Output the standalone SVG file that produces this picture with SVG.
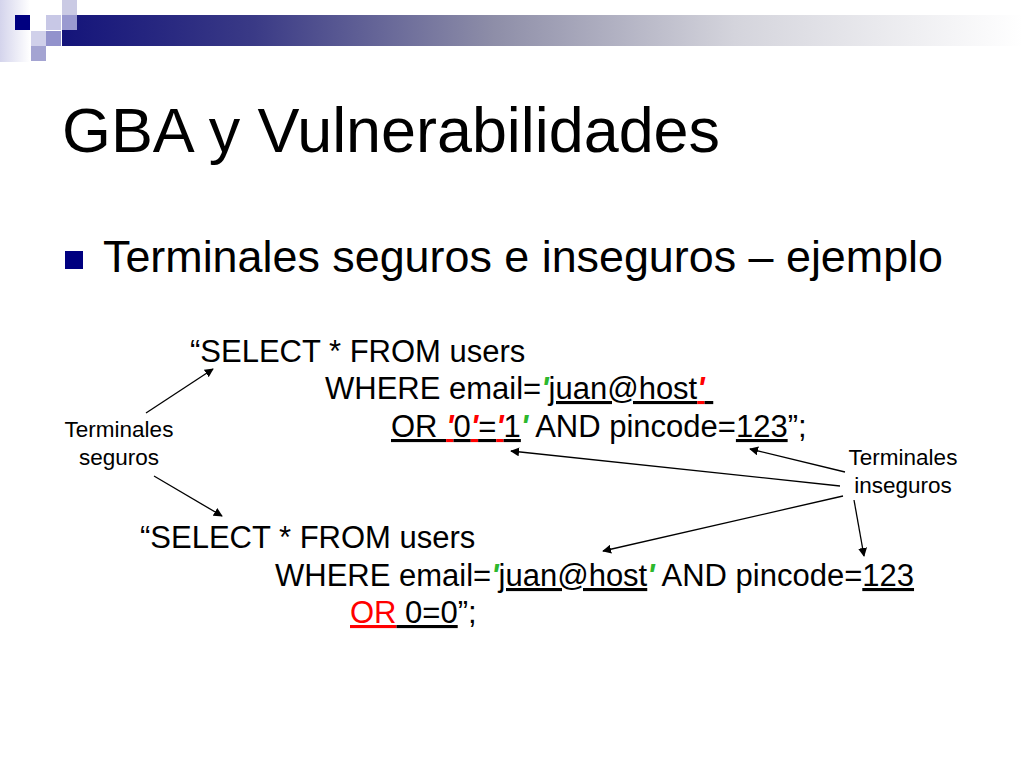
<svg xmlns="http://www.w3.org/2000/svg" width="1023" height="767" viewBox="0 0 1023 767">
<style>
text{font-family:"Liberation Sans",Arial,sans-serif;fill:#000;white-space:pre}
.sql{font-size:31px}
.lbl{font-size:22.5px;text-anchor:middle}
.u{text-decoration:underline}
.g{fill:#2db82d;font-weight:bold;font-style:italic}
.r{fill:#ff0000}
.rq{fill:#ff0000;font-weight:bold;font-style:italic}
.conn line{stroke:#000;stroke-width:1.3;marker-end:url(#ah)}
</style>
<defs>
<linearGradient id="bar" x1="0" y1="0" x2="1" y2="0">
<stop offset="0" stop-color="#14147a"/>
<stop offset="0.2" stop-color="#3a3a86"/>
<stop offset="0.45" stop-color="#8e8ea8"/>
<stop offset="0.7" stop-color="#d4d4dc"/>
<stop offset="1" stop-color="#ffffff"/>
</linearGradient>
<linearGradient id="side" x1="0" y1="0" x2="1" y2="0">
<stop offset="0" stop-color="#d4d4ec"/>
<stop offset="1" stop-color="#ffffff"/>
</linearGradient>
<marker id="ah" viewBox="0 0 10 10" refX="9" refY="5" markerWidth="9" markerHeight="9" markerUnits="userSpaceOnUse" orient="auto">
<path d="M0,0 L10,5 L0,10 z" fill="#000"/>
</marker>
</defs>
<rect width="1023" height="767" fill="#fff"/>
<g id="header">
<rect x="0" y="0" width="30" height="62" fill="url(#side)"/>
<rect x="62" y="15" width="961" height="31" fill="url(#bar)"/>
<rect x="15" y="15" width="15" height="15" fill="#000080"/>
<rect x="46" y="15" width="15" height="15" fill="#c8c8e6"/>
<rect x="62" y="15" width="15" height="15" fill="#9a9ad0"/>
<rect x="62" y="0" width="15" height="15" fill="#cacae4"/>
<rect x="31" y="31" width="15" height="15" fill="#d0d0ea"/>
<rect x="46" y="31" width="15" height="15" fill="#9292cc"/>
<rect x="31" y="46" width="15" height="15" fill="#a4a4d2"/>
</g>
<g id="title">
<text x="62" y="152" font-size="63" textLength="658" lengthAdjust="spacingAndGlyphs">GBA y Vulnerabilidades</text>
</g>
<g id="bullet">
<rect x="65" y="251" width="18" height="18" fill="#000080"/>
<text x="103" y="272" font-size="44.5" textLength="840" lengthAdjust="spacingAndGlyphs">Terminales seguros e inseguros – ejemplo</text>
</g>
<g id="query1">
<text class="sql" x="190" y="362">“SELECT * FROM users</text>
<text class="sql" x="325" y="399">WHERE email=<tspan class="g">'</tspan><tspan class="u">juan@host</tspan><tspan class="rq u">'</tspan><tspan class="u"> </tspan></text>
<text class="sql" x="391" y="437"><tspan class="u">OR </tspan><tspan class="rq u">'</tspan><tspan class="u">0</tspan><tspan class="rq u">'</tspan><tspan class="u">=</tspan><tspan class="rq u">'</tspan><tspan class="u">1</tspan><tspan class="g">'</tspan> AND pincode=<tspan class="u">123</tspan>”;</text>
</g>
<g id="query2">
<text class="sql" x="140" y="548">“SELECT * FROM users</text>
<text class="sql" x="275" y="586">WHERE email=<tspan class="g">'</tspan><tspan class="u">juan@host</tspan><tspan class="g">'</tspan> AND pincode=<tspan class="u">123</tspan></text>
<text class="sql" x="350" y="623"><tspan class="r u">OR</tspan><tspan class="u"> 0=0</tspan>”;</text>
</g>
<g id="label-seguros">
<text class="lbl" x="119" y="437">Terminales</text>
<text class="lbl" x="119" y="465">seguros</text>
</g>
<g id="label-inseguros">
<text class="lbl" x="903" y="465">Terminales</text>
<text class="lbl" x="903" y="493">inseguros</text>
</g>
<g id="connectors" class="conn">
<line x1="146" y1="413" x2="213" y2="369"/>
<line x1="154" y1="476" x2="222" y2="516"/>
<line x1="845" y1="472" x2="750" y2="449"/>
<line x1="840" y1="486" x2="511" y2="451"/>
<line x1="843" y1="496" x2="603" y2="551"/>
<line x1="854" y1="500" x2="864" y2="556"/>
</g>
</svg>
